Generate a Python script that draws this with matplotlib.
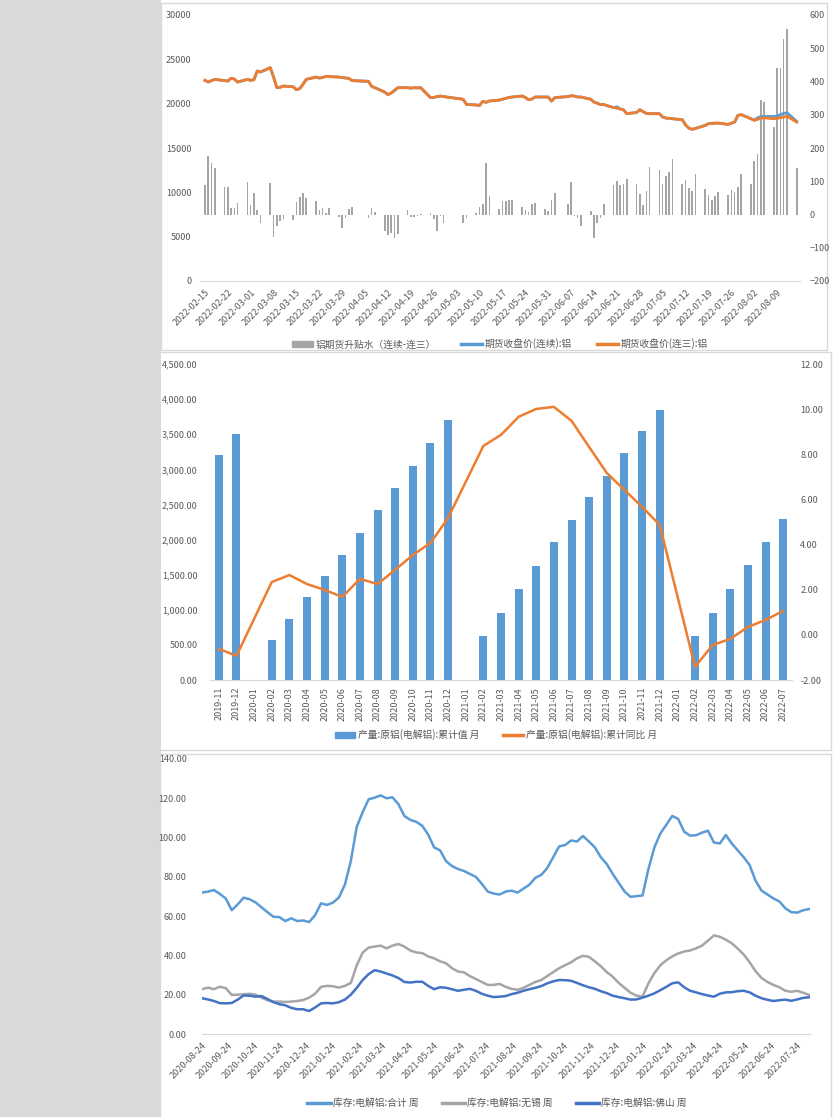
import numpy as np
import pandas as pd
import matplotlib
matplotlib.use("Agg")
import matplotlib.pyplot as plt
import matplotlib.dates as mdates
from matplotlib.patches import Rectangle, Patch
from matplotlib.lines import Line2D
from matplotlib.ticker import FuncFormatter

plt.rcParams['font.family'] = ['Noto Sans CJK SC', 'DejaVu Sans']

W, H = 836, 1117
GRID = '#d9d9d9'
TXT = '#595959'
BLUE = '#5B9BD5'
ORANGE = '#ED7D31'
GRAY = '#A5A5A5'
DKBLUE = '#4472C4'

# ---------------- panel 1: daily futures, 2022-02-15 .. 2022-08-15
holidays_2022 = ['2022-04-04', '2022-04-05', '2022-05-02', '2022-05-03',
                 '2022-05-04', '2022-06-03']
days1 = pd.bdate_range('2022-02-15', '2022-08-15', freq='C',
                       holidays=holidays_2022)

spread = [89, 175, 155, 140,
          84, 84, 19, 19, 34,
          99, 29, 66, 13, -27,
          94, -69, -35, -19, -13,
          -17, 39, 54, 64, 49,
          40, 13, 19, 5, 19,
          -8, -40, -10, 16, 22,
          -12, 20, 8,
          -50, -62, -55, -72, -58,
          14, -8, -8, -6, 3,
          4, -15, -50, -5, -25,
          -25, -12,
          5, 24, 32, 155, 55,
          18, 40, 42, 44, 45,
          24, 14, 8, 32, 34,
          18, 12, 45, 65,
          32, 98, -4, -12, -35,
          12, -70, -25, -10, 32,
          88, 102, 90, 93, 108,
          92, 62, 28, 72, 143,
          134, 93, 115, 128, 168,
          93, 103, 80, 72, 123,
          78, 58, 43, 55, 67,
          58, 73, 68, 83, 122,
          93, 162, 183, 343, 338,
          262, 442, 442, 528, 558,
          139]

price_c3 = [22630, 22440, 22600, 22740,
            22600, 22550, 22860, 22780, 22440,
            22740, 22630, 22700, 23680, 23570,
            24060, 23000, 21800, 21850, 21990,
            21900, 21580, 21700, 22180, 22740,
            23000, 22890, 22950, 23080, 23050,
            23000, 22940, 22900, 22850, 22600,
            22520, 21950, 21800,
            21300, 21020, 21200, 21500, 21800,
            21800, 21750, 21800, 21780, 21800,
            20680, 20700, 20800, 20860, 20800,
            20490, 19920,
            19850, 19810, 20260, 20150, 20300,
            20400, 20500, 20600, 20700, 20750,
            20860, 20700, 20450, 20520, 20750,
            20750, 20750, 20290, 20680,
            20800, 20900, 20850, 20750, 20750,
            20500, 20180, 20050, 19890, 19900,
            19550, 19500, 19400, 19320, 18870,
            19000, 19320, 19100, 18900, 18870,
            18870, 18500, 18370, 18350, 18300,
            18190, 17600, 17250, 17100, 17200,
            17550, 17740, 17780, 17800, 17810,
            17660, 17800, 17920, 18680, 18760,
            18300, 18110, 18230, 18350, 18400,
            18300, 18350, 18400, 18500, 18590,
            17920]

price_cont = [22630, 22440, 22600, 22740,
              22600, 22550, 22860, 22780, 22440,
              22740, 22630, 22700, 23680, 23570,
              24060, 23000, 21800, 21850, 21990,
              21900, 21580, 21700, 22180, 22740,
              23000, 22890, 22950, 23080, 23050,
              23000, 22940, 22900, 22850, 22600,
              22520, 21950, 21800,
              21300, 21020, 21200, 21500, 21800,
              21800, 21750, 21800, 21780, 21800,
              20680, 20700, 20800, 20860, 20800,
              20490, 19920,
              19850, 19810, 20260, 20150, 20300,
              20400, 20500, 20600, 20700, 20750,
              20860, 20700, 20450, 20520, 20750,
              20750, 20750, 20290, 20680,
              20800, 20900, 20850, 20750, 20750,
              20500, 20180, 20050, 19890, 19900,
              19550, 19650, 19400, 19320, 18870,
              19000, 19320, 19100, 18900, 18870,
              18870, 18500, 18370, 18350, 18300,
              18190, 17600, 17250, 17100, 17200,
              17550, 17740, 17780, 17800, 17810,
              17660, 17800, 17920, 18680, 18760,
              18300, 18150, 18400, 18560, 18560,
              18560, 18600, 18750, 18900, 18980,
              18000]

week_ticks1 = pd.date_range('2022-02-15', '2022-08-09', freq='7D')

# ---------------- panel 2: monthly output
months = ['2019-11', '2019-12', '2020-01', '2020-02', '2020-03', '2020-04',
          '2020-05', '2020-06', '2020-07', '2020-08', '2020-09', '2020-10',
          '2020-11', '2020-12', '2021-01', '2021-02', '2021-03', '2021-04',
          '2021-05', '2021-06', '2021-07', '2021-08', '2021-09', '2021-10',
          '2021-11', '2021-12', '2022-01', '2022-02', '2022-03', '2022-04',
          '2022-05', '2022-06', '2022-07']
output_cum = [3204, 3504, np.nan, 575, 870, 1180, 1480, 1780, 2100, 2420,
              2740, 3050, 3370, 3708, np.nan, 630, 960, 1290, 1630, 1960,
              2280, 2600, 2905, 3230, 3540, 3850, np.nan, 620, 950, 1290,
              1640, 1960, 2290]
output_yoy = [-0.62, -0.93, np.nan, 2.34, 2.65, 2.25, 1.99, 1.68, 2.48, 2.25,
              2.88, 3.54, 4.07, 5.18, np.nan, 8.37, 8.86, 9.66, 10.01, 10.10,
              9.48, 8.32, 7.17, 6.42, 5.67, 4.87, np.nan, -1.42, -0.45, -0.18,
              0.35, 0.66, 1.06]

# ---------------- panel 3: weekly inventory
weeks3 = pd.date_range('2020-08-24', periods=103, freq='7D')
stock_total = [72.0, 72.5, 73.3, 71.3, 69.0, 63.0, 66.0, 69.4, 68.6, 67.0,
               64.5, 62.0, 59.7, 59.5, 57.5, 58.9, 57.5, 57.8, 57.0, 60.5,
               66.5, 65.7, 66.9, 69.5, 76.0, 88.0, 105.5, 113.0, 119.5, 120.3,
               121.5, 120.0, 120.5, 117.0, 111.0, 109.0, 108.0, 106.0, 101.5, 95.0,
               93.5, 88.0, 85.5, 84.0, 83.0, 81.5, 80.0, 76.5, 72.5, 71.5,
               71.0, 72.5, 73.0, 72.0, 74.0, 76.0, 79.5, 81.0, 84.5, 90.0,
               95.5, 96.2, 98.5, 98.0, 100.8, 98.0, 95.0, 90.0, 86.5, 81.5,
               77.0, 72.5, 69.8, 70.2, 70.5, 84.0, 95.0, 102.0, 106.5, 111.0,
               109.5, 103.0, 101.0, 101.2, 102.5, 103.5, 97.5, 97.0, 101.3, 97.0,
               93.5, 90.0, 86.0, 78.0, 73.0, 71.0, 69.0, 67.5, 64.0, 62.0,
               61.8, 63.0, 63.6]
stock_wuxi = [22.8, 23.6, 22.8, 24.1, 23.3, 19.9, 20.0, 20.2, 20.5, 20.0,
              18.5, 17.2, 16.5, 16.5, 16.3, 16.5, 16.8, 17.3, 18.5, 20.5,
              24.0, 24.5, 24.3, 23.6, 24.5, 26.0, 35.0, 41.5, 44.0, 44.5,
              45.0, 43.6, 45.0, 45.8, 44.5, 42.5, 41.5, 41.2, 39.5, 38.5,
              37.0, 36.0, 33.5, 31.8, 31.4, 29.5, 28.0, 26.5, 25.0, 25.0,
              25.5, 24.0, 23.0, 22.5, 23.5, 25.0, 26.5, 27.5, 29.5, 31.5,
              33.5, 35.0, 36.5, 38.5, 39.8, 39.3, 37.0, 34.5, 31.5, 29.2,
              26.0, 23.5, 21.0, 19.5, 19.0, 25.8, 31.0, 35.0, 37.5, 39.5,
              41.0, 42.0, 42.5, 43.6, 45.0, 47.5, 50.2, 49.5, 48.0, 46.2,
              43.5, 40.5, 36.5, 32.0, 28.5, 26.5, 25.0, 23.8, 22.0, 21.5,
              22.0, 21.0, 19.9]
stock_foshan = [18.2, 17.6, 16.8, 15.7, 15.6, 15.8, 17.5, 19.6, 19.5, 19.0,
                19.3, 17.8, 16.2, 15.2, 14.6, 13.3, 12.6, 12.6, 11.7, 13.5,
                15.6, 15.8, 15.6, 16.2, 17.5, 20.0, 23.5, 27.5, 30.5, 32.5,
                31.8, 30.8, 29.8, 28.5, 26.5, 26.2, 26.6, 26.6, 24.5, 22.8,
                23.8, 23.5, 22.8, 22.0, 22.5, 23.0, 22.0, 20.5, 19.5, 18.8,
                19.0, 19.3, 20.3, 21.0, 22.0, 22.8, 23.5, 24.4, 25.8, 26.8,
                27.5, 27.4, 27.1, 26.0, 24.8, 23.8, 23.0, 21.8, 20.8, 19.5,
                18.8, 18.2, 17.5, 17.6, 18.5, 19.5, 20.7, 22.3, 24.0, 25.8,
                26.3, 23.8, 22.0, 21.2, 20.3, 19.6, 19.0, 20.5, 21.2, 21.3,
                21.8, 22.0, 21.2, 19.5, 18.2, 17.4, 16.8, 17.2, 17.5, 16.9,
                17.6, 18.4, 18.7]
month_ticks3 = pd.date_range('2020-08-01', '2022-07-01', freq='MS') + pd.Timedelta(days=23)


fig = plt.figure(figsize=(W / 100, H / 100), dpi=100)
fig.add_artist(Rectangle((0, 0), 161 / W, 1, transform=fig.transFigure,
                         fc='#d9d9d9', ec='none', zorder=-5))


def frame(x0, y0, x1, y1):
    fig.add_artist(Rectangle((x0 / W, 1 - y1 / H), (x1 - x0) / W, (y1 - y0) / H,
                             transform=fig.transFigure, fill=False,
                             ec=GRID, lw=1, zorder=-4))


def px_axes(l, t, r, b):
    return fig.add_axes([l / W, 1 - b / H, (r - l) / W, (b - t) / H])


def clean(ax):
    for s in ['top', 'left', 'right']:
        ax.spines[s].set_visible(False)
    ax.spines['bottom'].set_color(GRID)
    ax.tick_params(length=0, labelsize=6.5, labelcolor=TXT)


frame(161, 3, 827, 350)
frame(159, 352, 831, 750)
frame(160, 754, 831, 1118)

# ---- panel 1
ax1 = px_axes(200, 15, 800, 281)
ax1r = ax1.twinx()
ax1.set_zorder(ax1r.get_zorder() + 1)
ax1.patch.set_visible(False)
ax1r.bar(days1, spread, width=0.5, color=GRAY)
ax1.plot(days1, price_cont, color=BLUE, lw=2)
ax1.plot(days1, price_c3, color=ORANGE, lw=2)
ax1.set_ylim(0, 30000)
ax1.set_yticks(range(0, 30001, 5000))
ax1r.set_ylim(-200, 600)
ax1r.set_yticks(range(-200, 601, 100))
ax1.set_xlim(days1[0] - pd.Timedelta(hours=36), days1[-1] + pd.Timedelta(hours=24))
ax1.set_xticks(week_ticks1)
ax1.xaxis.set_major_formatter(mdates.DateFormatter('%Y-%m-%d'))
for a in (ax1, ax1r):
    clean(a)
ax1r.spines['bottom'].set_visible(False)
ax1.tick_params(axis='y', pad=6)
ax1r.tick_params(axis='y', pad=7)
plt.setp(ax1.get_xticklabels(), rotation=45, ha='right', va='top',
         rotation_mode='anchor')
ax1.tick_params(axis='x', pad=5)

fig.legend(handles=[Patch(color=GRAY), Line2D([], [], color=BLUE, lw=2.5),
                    Line2D([], [], color=ORANGE, lw=2.5)],
           labels=['铝期货升贴水（连续-连三）', '期货收盘价(连续):铝', '期货收盘价(连三):铝'],
           loc='center', bbox_to_anchor=(500 / W, 1 - 344 / H), ncol=3,
           frameon=False, fontsize=7, handlelength=2.1, handleheight=0.5,
           handletextpad=0.3, columnspacing=2.6, labelcolor=TXT)

# ---- panel 2
ax2 = px_axes(210, 364, 792, 680)
ax2r = ax2.twinx()
xi = np.arange(len(months))
ax2.bar(xi, output_cum, width=0.45, color=BLUE)
yoy = np.array(output_yoy)
ok = ~np.isnan(yoy)
ax2r.plot(xi[ok], yoy[ok], color=ORANGE, lw=1.8)
ax2.set_xlim(-0.5, len(months) - 0.5)
ax2.set_ylim(0, 4500)
ax2.set_yticks(range(0, 4501, 500))
ax2.yaxis.set_major_formatter(FuncFormatter(lambda v, p: f'{v:,.2f}'))
ax2r.set_ylim(-2, 12)
ax2r.set_yticks(range(-2, 13, 2))
ax2r.yaxis.set_major_formatter(FuncFormatter(lambda v, p: f'{v:.2f}'))
ax2.set_xticks(xi)
ax2.set_xticklabels(months, rotation=90)
for a in (ax2, ax2r):
    clean(a)
ax2r.spines['bottom'].set_visible(False)
ax2.tick_params(axis='y', pad=9)
ax2r.tick_params(axis='y', pad=6)
ax2.tick_params(axis='x', pad=5)

fig.legend(handles=[Patch(color=BLUE), Line2D([], [], color=ORANGE, lw=2.5)],
           labels=['产量:原铝(电解铝):累计值 月', '产量:原铝(电解铝):累计同比 月'],
           loc='center', bbox_to_anchor=(496 / W, 1 - 735 / H), ncol=2,
           frameon=False, fontsize=7, handlelength=2.1, handleheight=0.6,
           handletextpad=0.3, columnspacing=2.4, labelcolor=TXT)

# ---- panel 3
ax3 = px_axes(202, 759, 810, 1034)
ax3.plot(weeks3, stock_total, color=BLUE, lw=1.8)
ax3.plot(weeks3, stock_wuxi, color=GRAY, lw=1.8)
ax3.plot(weeks3, stock_foshan, color=DKBLUE, lw=1.8)
ax3.set_ylim(0, 140)
ax3.set_yticks(range(0, 141, 20))
ax3.yaxis.set_major_formatter(FuncFormatter(lambda v, p: f'{v:.2f}'))
ax3.set_xlim(pd.Timestamp('2020-08-24'), pd.Timestamp('2022-08-09'))
ax3.set_xticks(month_ticks3)
ax3.xaxis.set_major_formatter(mdates.DateFormatter('%Y-%m-%d'))
clean(ax3)
ax3.tick_params(axis='y', pad=11)
plt.setp(ax3.get_xticklabels(), rotation=45, ha='right', va='top',
         rotation_mode='anchor')
ax3.tick_params(axis='x', pad=5)

fig.legend(handles=[Line2D([], [], color=BLUE, lw=2.5),
                    Line2D([], [], color=GRAY, lw=2.5),
                    Line2D([], [], color=DKBLUE, lw=2.5)],
           labels=['库存:电解铝:合计 周', '库存:电解铝:无锡 周', '库存:电解铝:佛山 周'],
           loc='center', bbox_to_anchor=(497 / W, 1 - 1103 / H), ncol=3,
           frameon=False, fontsize=7, handlelength=2.4,
           handletextpad=0.2, columnspacing=2.4, labelcolor=TXT)

fig.savefig('out.png', dpi=100)
